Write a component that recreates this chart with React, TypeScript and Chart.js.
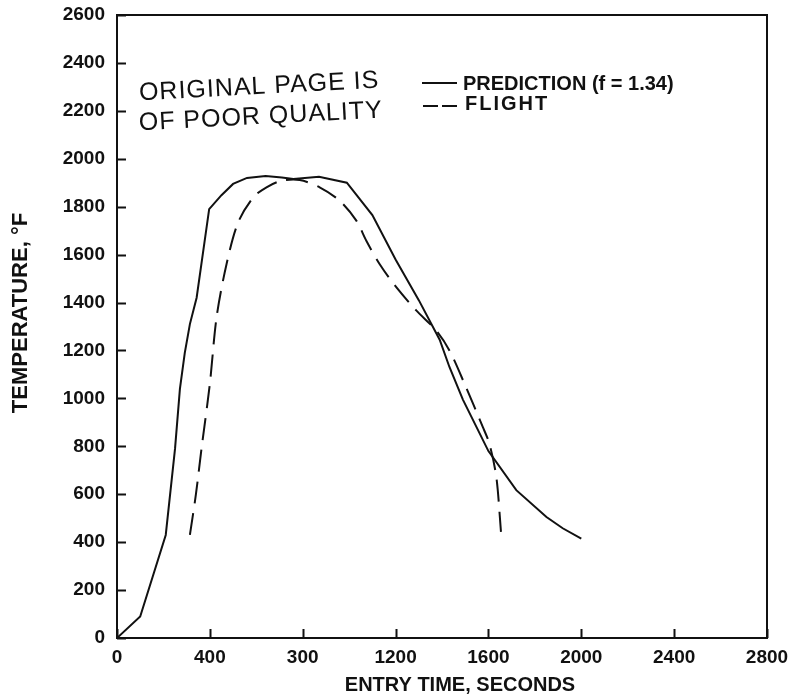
import React, { useEffect, useRef } from "react";
import { Chart, registerables } from "chart.js";

Chart.register(...registerables);

// Prediction (solid) curve: entry time (s) vs temperature (°F)
const predictionTime = [0, 100, 210, 250, 271, 292, 314, 343, 397, 450, 500, 560, 640, 710, 760, 870, 990, 1100, 1200, 1300, 1390, 1432, 1490, 1600, 1720, 1850, 1920, 2000];
const predictionTemp = [0, 90, 430, 790, 1040, 1190, 1310, 1420, 1790, 1848, 1895, 1920, 1928, 1922, 1916, 1925, 1900, 1765, 1580, 1410, 1245, 1131, 995, 780, 617, 505, 458, 415];

// Flight (dashed) curve
const flightTime = [314, 340, 364, 400, 429, 472, 522, 587, 644, 708, 787, 873, 959, 1031, 1074, 1131, 1203, 1289, 1375, 1432, 1497, 1576, 1604, 1634, 1654];
const flightTemp = [430, 600, 790, 1061, 1339, 1561, 1735, 1839, 1881, 1908, 1911, 1881, 1825, 1742, 1658, 1561, 1464, 1367, 1283, 1200, 1061, 880, 811, 672, 443];

const xTickValues = [0, 400, 800, 1200, 1600, 2000, 2400, 2800];
const xTickLabels = ["0", "400", "300", "1200", "1600", "2000", "2400", "2800"];
const yTickValues = [0, 200, 400, 600, 800, 1000, 1200, 1400, 1600, 1800, 2000, 2200, 2400, 2600];
const yTickLabels = ["0", "200", "400", "600", "800", "1000", "1200", "1400", "1600", "1800", "2000", "2200", "2400", "2600"];

const seriesNames = ["PREDICTION (f = 1.34)", "FLIGHT"];
const xTitle = "ENTRY TIME, SECONDS";
const yTitle = "TEMPERATURE, \u00B0F";
const stampLines = ["ORIGINAL PAGE IS", "OF POOR QUALITY"];

const INK = "#111111";
const FONT = "'Liberation Sans', Arial, Helvetica, sans-serif";
const FLIGHT_DASH = [22, 10];

const decorPlugin = {
  id: "decor",
  afterDraw(chart: any) {
    const ctx = chart.ctx as CanvasRenderingContext2D;
    const { left, right, top, bottom } = chart.chartArea;
    const xs = chart.scales.x;
    const ys = chart.scales.y;
    ctx.save();
    ctx.strokeStyle = INK;
    ctx.fillStyle = INK;
    ctx.lineWidth = 2;
    ctx.setLineDash([]);
    ctx.strokeRect(left, top, right - left, bottom - top);

    // inward tick marks
    ctx.beginPath();
    yTickValues.forEach((v) => {
      const py = Math.round(ys.getPixelForValue(v)) + 0.5;
      ctx.moveTo(left, py);
      ctx.lineTo(left + 9, py);
    });
    xTickValues.forEach((v) => {
      const px = Math.round(xs.getPixelForValue(v)) + 0.5;
      ctx.moveTo(px, bottom);
      ctx.lineTo(px, bottom - 9);
    });
    ctx.stroke();

    // legend
    ctx.font = `bold 20px ${FONT}`;
    ctx.textBaseline = "middle";
    ctx.textAlign = "left";
    ctx.lineWidth = 2;
    ctx.beginPath();
    ctx.moveTo(422, 83);
    ctx.lineTo(457, 83);
    ctx.stroke();
    ctx.fillText(seriesNames[0], 463, 84);
    ctx.setLineDash([15, 4]);
    ctx.beginPath();
    ctx.moveTo(423, 106);
    ctx.lineTo(460, 106);
    ctx.stroke();
    ctx.setLineDash([]);
    (ctx as any).letterSpacing = "2px";
    ctx.fillText(seriesNames[1], 465, 104);
    (ctx as any).letterSpacing = "0px";

    // axis titles
    ctx.font = `bold 20px ${FONT}`;
    ctx.textAlign = "center";
    ctx.fillText(xTitle, 460, 685);
    ctx.save();
    ctx.translate(21, 313);
    ctx.rotate(-Math.PI / 2);
    ctx.font = `bold 22px ${FONT}`;
    ctx.fillText(yTitle, 0, 0);
    ctx.restore();

    // stamp
    ctx.save();
    ctx.translate(260, 102);
    ctx.rotate((-3 * Math.PI) / 180);
    ctx.font = `25px ${FONT}`;
    (ctx as any).letterSpacing = "1px";
    ctx.fillText(stampLines[0], 0, -15);
    ctx.fillText(stampLines[1], 0, 15);
    (ctx as any).letterSpacing = "0px";
    ctx.restore();

    ctx.restore();
  },
};

export default function App() {
  const canvasRef = useRef<HTMLCanvasElement | null>(null);

  useEffect(() => {
    const canvas = canvasRef.current;
    if (!canvas) return;
    const chart = new Chart(canvas, {
      type: "line",
      data: {
        datasets: [
          {
            label: seriesNames[0],
            data: predictionTime.map((t, i) => ({ x: t, y: predictionTemp[i] })),
            borderColor: INK,
            borderWidth: 2,
            pointRadius: 0,
            tension: 0,
            fill: false,
          },
          {
            label: seriesNames[1],
            data: flightTime.map((t, i) => ({ x: t, y: flightTemp[i] })),
            borderColor: INK,
            borderWidth: 2,
            borderDash: FLIGHT_DASH,
            pointRadius: 0,
            tension: 0.3,
            fill: false,
          },
        ],
      },
      options: {
        responsive: false,
        animation: false,
        devicePixelRatio: 1,
        layout: { padding: { top: 15, right: 25, left: 0, bottom: 0 } },
        plugins: {
          legend: { display: false },
          tooltip: { enabled: false },
        },
        scales: {
          x: {
            type: "linear",
            min: 0,
            max: 2800,
            afterBuildTicks: (scale: any) => {
              scale.ticks = xTickValues.map((v) => ({ value: v }));
            },
            afterFit: (scale: any) => {
              scale.height = 62;
              scale.paddingLeft = 0;
              scale.paddingRight = 0;
            },
            grid: { display: false, drawTicks: false },
            border: { display: false },
            ticks: {
              padding: 8,
              color: INK,
              maxRotation: 0,
              autoSkip: false,
              font: { family: FONT, size: 19, weight: "bold" },
              callback: (v: any) => {
                const i = xTickValues.indexOf(Number(v));
                return i >= 0 ? xTickLabels[i] : "";
              },
            },
          },
          y: {
            type: "linear",
            min: 0,
            max: 2600,
            afterBuildTicks: (scale: any) => {
              scale.ticks = yTickValues.map((v) => ({ value: v }));
            },
            afterFit: (scale: any) => {
              scale.width = 117;
              scale.paddingTop = 0;
              scale.paddingBottom = 0;
            },
            grid: { display: false, drawTicks: false },
            border: { display: false },
            ticks: {
              padding: 12,
              color: INK,
              autoSkip: false,
              font: { family: FONT, size: 19, weight: "bold" },
              callback: (v: any) => {
                const i = yTickValues.indexOf(Number(v));
                return i >= 0 ? yTickLabels[i] : "";
              },
            },
          },
        },
      },
      plugins: [decorPlugin],
    });
    return () => chart.destroy();
  }, []);

  return (
    <div style={{ position: "absolute", left: 0, top: 0, width: 792, height: 700, background: "#ffffff" }}>
      <canvas ref={canvasRef} width={792} height={700} style={{ width: 792, height: 700, display: "block" }} />
    </div>
  );
}
